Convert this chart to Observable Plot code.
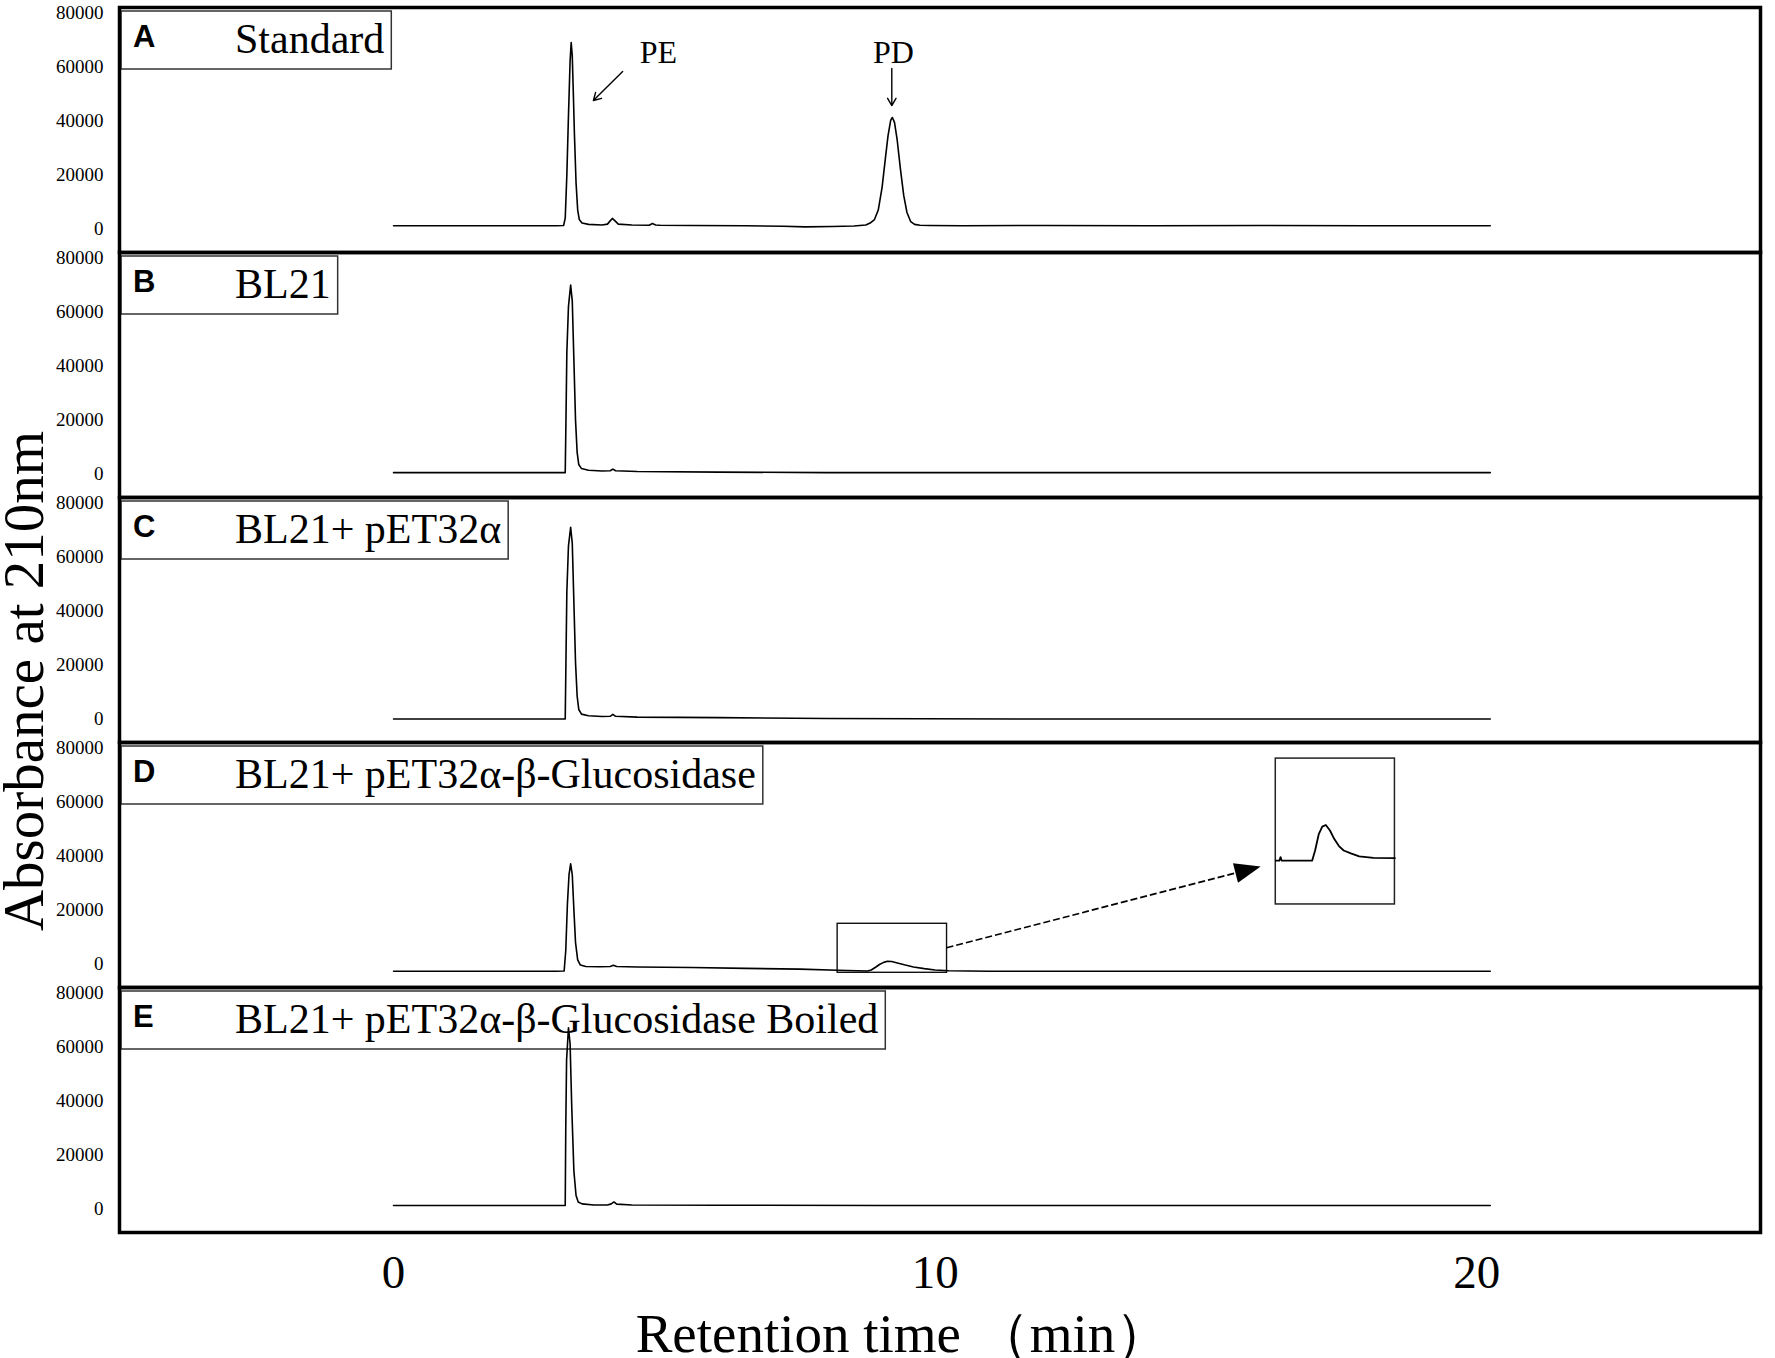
<!DOCTYPE html>
<html>
<head>
<meta charset="utf-8">
<script src="https://cdn.jsdelivr.net/npm/d3@7"></script>
<script src="https://cdn.jsdelivr.net/npm/@observablehq/plot@0.6"></script>
<style>
  body { margin: 0; background: #fff; }
  #fig { position: relative; width: 1775px; height: 1358px; background: #fff; overflow: hidden; }
  #fig svg.panel { position: absolute; left: 0; }
  #fig svg.overlay { position: absolute; left: 0; top: 0; pointer-events: none; }
</style>
</head>
<body>
<div id="fig"></div>
<script>
// ---------------- data ----------------
const panelLetters = ["A", "B", "C", "D", "E"];
const panelNames = [
  "Standard",
  "BL21",
  "BL21+ pET32α",
  "BL21+ pET32α-β-Glucosidase",
  "BL21+ pET32α-β-Glucosidase Boiled"
];
const yTicks = [0, 20000, 40000, 60000, 80000];
const xTicks = [0, 10, 20];

// [retention time (min), absorbance]
const standard = [[0,1200],[1.5,1200],[3.0,1200],[3.14,1300],[3.17,4000],[3.20,20000],[3.23,42000],[3.26,62000],[3.28,68900],[3.30,64000],[3.32,50000],[3.34,35000],[3.37,17000],[3.40,7000],[3.43,3500],[3.48,2200],[3.6,1700],
  [3.85,1500],[3.95,1800],[4.0,3000],[4.04,3900],[4.09,3000],[4.15,1800],[4.4,1500],[4.72,1400],[4.78,2000],[4.84,1500],[4.92,1400],
  [5.5,1300],[6.5,1200],[7.2,1000],[7.6,800],[8.1,900],[8.5,1100],
  [8.72,1500],[8.8,2200],[8.88,3500],[8.95,7000],[9.02,15300],[9.08,25800],[9.13,34400],[9.18,40200],[9.21,41200],[9.25,39400],[9.30,32800],[9.36,22000],[9.42,12400],[9.48,6100],[9.55,2700],[9.62,1700],[9.72,1400],[9.9,1300],
  [10.5,1200],[12,1300],[14,1200],[16,1300],[18,1200],[20.25,1200]];
const bl21 = [[0,500],[1.5,500],[3.0,500],[3.17,500],[3.185,22000],[3.20,45000],[3.23,62000],[3.27,69800],[3.30,64000],[3.33,42000],[3.36,20000],[3.39,8000],[3.42,3500],[3.47,2000],[3.6,1400],
  [3.85,1100],[4.0,1200],[4.05,1800],[4.1,1200],[4.5,900],[6.0,700],[8.0,500],[12,500],[16,500],[20.25,500]];
const bl21Vector = [[0,0],[1.5,0],[3.0,0],[3.17,0],[3.185,24000],[3.20,47000],[3.23,64000],[3.27,70800],[3.30,65000],[3.33,43000],[3.36,21000],[3.39,8500],[3.42,3500],[3.47,1800],[3.6,1200],
  [3.85,900],[4.0,1000],[4.05,1700],[4.1,1000],[4.5,700],[6.0,500],[8.0,200],[12,0],[16,0],[20.25,0]];
const bl21Gluc = [[0,-2700],[1.5,-2700],[3.0,-2700],[3.15,-2600],[3.18,5000],[3.21,22000],[3.24,33000],[3.27,37000],[3.30,33000],[3.33,20000],[3.36,8000],[3.40,1500],[3.45,-400],[3.55,-900],
  [3.8,-1000],[4.0,-900],[4.06,-500],[4.12,-900],[4.5,-1100],[5.5,-1300],[6.5,-1600],[7.5,-1900],[8.2,-2300],
  [8.75,-2600],[8.82,-2200],[8.9,-1200],[8.98,-100],[9.05,600],[9.12,1000],[9.2,900],[9.32,300],[9.45,-400],[9.6,-1100],[9.8,-1700],[10.0,-2200],[10.25,-2500],
  [11.0,-2700],[14,-2700],[17,-2700],[20.25,-2700]];
const bl21GlucBoiled = [[0,1300],[1.5,1300],[3.0,1300],[3.17,1300],[3.18,30000],[3.195,55000],[3.23,67000],[3.26,61000],[3.29,38000],[3.33,14000],[3.37,5000],[3.41,2600],[3.48,1900],
  [3.7,1500],[3.95,1500],[4.02,1900],[4.07,2600],[4.12,1800],[4.4,1500],[6,1400],[9,1300],[12,1300],[16,1300],[20.25,1300]];
const traces = [standard, bl21, bl21Vector, bl21Gluc, bl21GlucBoiled];

// inset of panel D: [fraction across box, fraction up box]
const insetShape = [[0,0.30],[0.03,0.30],[0.04,0.325],[0.05,0.30],[0.305,0.30],[0.33,0.37],[0.36,0.48],[0.39,0.534],[0.42,0.545],[0.455,0.507],[0.49,0.45],[0.53,0.40],[0.57,0.37],[0.63,0.35],[0.70,0.33],[0.82,0.32],[1.0,0.318]];
const zoomWindow = {t1: 8.2, t2: 10.22, v1: -3250, v2: 14860};
const insetWindow = {t1: 16.29, t2: 18.49, v1: 22000, v2: 75900};
const calloutArrow = {t1: 10.22, v1: 5840, t2: 16.02, v2: 35850};

// panel A annotations
const peakLabels = [{t: 4.89, v: 65200, text: "PE"}, {t: 9.23, v: 65200, text: "PD"}];
const peakArrows = [{t1: 4.23, v1: 58200, t2: 3.69, v2: 47500}, {t1: 9.20, v1: 59300, t2: 9.20, v2: 45600}];

// ---------------- layout ----------------
const W = 1775, marginLeft = 119, marginRight = 15, panelH = 245, top0 = 7, bottomExtra = 126;
const xDomain = [-5.06, 25.24];
const yDomain = [-8684, 81848];
const serif = "'Liberation Serif', 'Times New Roman', serif";
const sans = "'Liberation Sans', Arial, sans-serif";
const fig = document.getElementById("fig");

const measureCtx = document.createElement("canvas").getContext("2d");
function textWidth(str, font) { measureCtx.font = font; return measureCtx.measureText(str).width; }

function labelBox(letter, name) {
  return () => {
    const g = d3.create("svg:g").attr("text-anchor", "start");
    const w = textWidth(name, `42px ${serif}`);
    g.append("rect").attr("x", marginLeft + 2).attr("y", 4).attr("width", 235 + w + 7 - (marginLeft + 2)).attr("height", 58)
      .attr("fill", "#fff").attr("stroke", "#333").attr("stroke-width", 1.5);
    g.append("text").attr("x", 133).attr("y", 40).attr("text-anchor", "start").attr("font-family", sans).attr("font-weight", "bold").attr("font-size", 31).attr("fill", "#000").text(letter);
    g.append("text").attr("x", 235).attr("y", 46).attr("text-anchor", "start").attr("font-family", serif).attr("font-size", 42).attr("fill", "#000").text(name);
    return g.node();
  };
}

function calloutHead(a) {
  return (index, scales) => {
    const x1 = scales.x(a.t1), y1 = scales.y(a.v1), x2 = scales.x(a.t2), y2 = scales.y(a.v2);
    const ang = Math.atan2(y2 - y1, x2 - x1);
    const L = 26, H = 10;
    const bx = x2 - L * Math.cos(ang), by = y2 - L * Math.sin(ang);
    const g = d3.create("svg:g");
    g.append("line").attr("x1", x1).attr("y1", y1).attr("x2", bx).attr("y2", by)
      .attr("stroke", "#000").attr("stroke-width", 1.6).attr("stroke-dasharray", "7,3");
    const px = -Math.sin(ang) * H, py = Math.cos(ang) * H;
    g.append("path").attr("d", `M${x2},${y2}L${bx + px},${by + py}L${bx - px},${by - py}Z`).attr("fill", "#000");
    return g.node();
  };
}

traces.forEach((trace, i) => {
  const last = i === traces.length - 1;
  const data = trace.map(([t, v]) => ({t, v}));
  const marks = [labelBox(panelLetters[i], panelNames[i])];
  if (i === 3) {
    const insetData = insetShape.map(([f, g]) => ({
      t: insetWindow.t1 + f * (insetWindow.t2 - insetWindow.t1),
      v: insetWindow.v1 + g * (insetWindow.v2 - insetWindow.v1)
    }));
    marks.push(
      Plot.rect([zoomWindow], {x1: "t1", x2: "t2", y1: "v1", y2: "v2", fill: "none", stroke: "#111", strokeWidth: 1.4}),
      Plot.rect([insetWindow], {x1: "t1", x2: "t2", y1: "v1", y2: "v2", fill: "#fff", stroke: "#222", strokeWidth: 1.5}),
      Plot.line(insetData, {x: "t", y: "v", stroke: "#000", strokeWidth: 1.8}),
      calloutHead(calloutArrow)
    );
  }
  marks.push(Plot.line(data, {x: "t", y: "v", stroke: "#000", strokeWidth: 1.6}));
  if (i === 0) {
    marks.push(
      Plot.text(peakLabels, {x: "t", y: "v", text: "text", fontSize: 32, fontFamily: serif, fill: "#000"}),
      Plot.arrow(peakArrows, {x1: "t1", y1: "v1", x2: "t2", y2: "v2", stroke: "#000", strokeWidth: 1.4, headLength: 9})
    );
  }
  marks.push(Plot.frame({stroke: "#000", strokeWidth: 3.5}));

  const svg = Plot.plot({
    width: W,
    height: panelH + (last ? bottomExtra : 0),
    marginLeft, marginRight, marginTop: 0, marginBottom: last ? bottomExtra : 0,
    style: {background: "transparent", overflow: "visible", fontFamily: serif, fontSize: "19px", color: "#000"},
    x: {domain: xDomain, ticks: xTicks, tickSize: 0, tickPadding: 22, label: null, axis: last ? "bottom" : null, tickFormat: d => String(d)},
    y: {domain: yDomain, ticks: yTicks, tickSize: 0, tickPadding: 16, label: null, tickFormat: d => String(d)},
    marks
  });
  svg.classList.add("panel");
  svg.style.top = (top0 + i * panelH) + "px";
  if (last) {
    d3.select(svg).selectAll('g[aria-label^="x-axis"] text').attr("font-size", 47);
  }
  fig.appendChild(svg);
});

// titles
const overlay = d3.select(fig).append("svg").attr("class", "overlay").attr("width", W).attr("height", 1358);
overlay.append("text").attr("transform", "translate(43,681) rotate(-90)").attr("text-anchor", "middle")
  .attr("font-family", serif).attr("font-size", 57).attr("fill", "#000").text("Absorbance at 210nm");
overlay.append("text").attr("x", 903).attr("y", 1352).attr("text-anchor", "middle")
  .attr("font-family", serif).attr("font-size", 55).attr("fill", "#000").text("Retention time （min）");
</script>
</body>
</html>
